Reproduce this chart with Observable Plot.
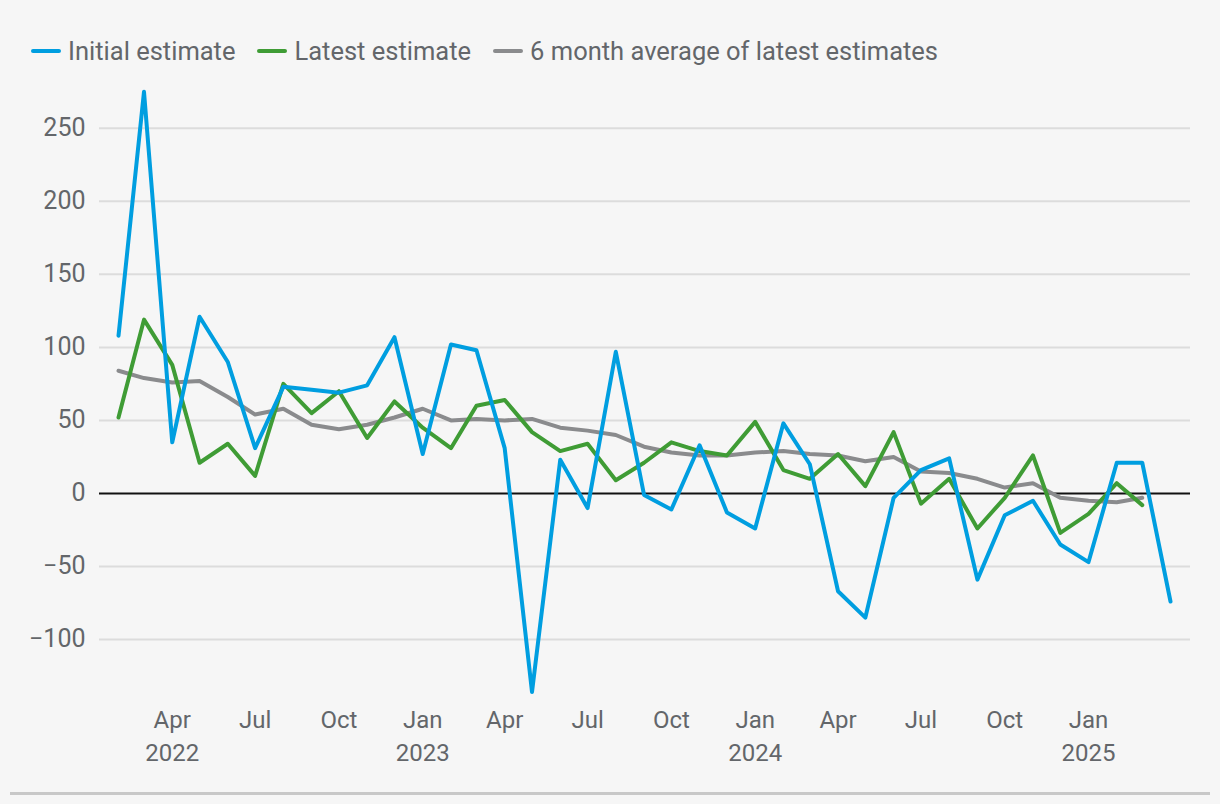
<!DOCTYPE html>
<html><head><meta charset="utf-8">
<script src="https://cdn.jsdelivr.net/npm/d3@7"></script>
<script src="https://cdn.jsdelivr.net/npm/@observablehq/plot@0.6"></script>
<style>
html,body{margin:0;padding:0;background:#f6f6f6;}
body{width:1220px;height:804px;overflow:hidden;font-family:Roboto,"Noto Sans",sans-serif;position:relative}
#legend{height:76px;box-sizing:border-box;padding-top:26px;padding-left:31px;display:flex;align-items:center;font-size:25.5px;color:#63666a}
.item{display:flex;align-items:center;margin-right:22px}
.sw{width:30px;height:4px;border-radius:2px;margin-right:7px}
#chart svg{display:block}
#rule{position:absolute;left:10px;top:792px;width:1200px;height:3px;background:#c8c8c8}
</style></head>
<body>
<div id="legend"></div>
<div id="chart"></div>
<div id="rule"></div>
<script>
const months = ["2022-02","2022-03","2022-04","2022-05","2022-06","2022-07","2022-08","2022-09","2022-10","2022-11","2022-12",
"2023-01","2023-02","2023-03","2023-04","2023-05","2023-06","2023-07","2023-08","2023-09","2023-10","2023-11","2023-12",
"2024-01","2024-02","2024-03","2024-04","2024-05","2024-06","2024-07","2024-08","2024-09","2024-10","2024-11","2024-12",
"2025-01","2025-02","2025-03","2025-04"];
const initialEstimate = [108,275,35,121,90,31,73,71,69,74,107,27,102,98,31,-136,23,-10,97,-1,-11,33,-13,-24,48,20,-67,-85,-3,16,24,-59,-15,-5,-35,-47,21,21,-74];
const latestEstimate = [52,119,88,21,34,12,75,55,70,38,63,45,31,60,64,42,29,34,9,21,35,29,26,49,16,10,27,5,42,-7,10,-24,-3,26,-27,-14,7,-8];
const sixMonthAverage = [84,79,76,77,66,54,58,47,44,47,52,58,50,51,50,51,45,43,40,32,28,26,26,28,29,27,26,22,25,15,14,10,4,7,-3,-5,-6,-3];
const yTicks = [-100,-50,0,50,100,150,200,250];
const xTickMonths = ["2022-04","2022-07","2022-10","2023-01","2023-04","2023-07","2023-10","2024-01","2024-04","2024-07","2024-10","2025-01"];
const seriesNames = ["Initial estimate","Latest estimate","6 month average of latest estimates"];
const seriesColors = ["#009ee0","#3f9c35","#8a8b8d"];

const parse = d3.utcParse("%Y-%m");
const dates = months.map(parse);
const xTicks = xTickMonths.map(parse);
const toRows = arr => arr.map((v,i)=>({date:dates[i], value:v}));

// legend
const lg = document.getElementById("legend");
seriesNames.forEach((n,i)=>{
  const it = document.createElement("div"); it.className="item";
  const sw = document.createElement("div"); sw.className="sw"; sw.style.background=seriesColors[i];
  const tx = document.createElement("span"); tx.textContent=n;
  it.appendChild(sw); it.appendChild(tx); lg.appendChild(it);
});

const fmtMonth = d3.utcFormat("%b");
const plot = Plot.plot({
  width:1220, height:712,
  marginLeft:99, marginRight:30, marginTop:8, marginBottom:90.6,
  style:{background:"transparent", fontFamily:"Roboto, 'Noto Sans', sans-serif"},
  x:{type:"utc", domain:[dates[0], dates[dates.length-1]], insetLeft:19, insetRight:20},
  y:{domain:[-140,280]},
  marks:[
    Plot.ruleY(yTicks.filter(d=>d!==0), {stroke:"#dcdcdc", strokeWidth:2}),
    Plot.axisY(yTicks, {tickSize:0, tickPadding:14, fontSize:25, fill:"#63666a", label:null}),
    Plot.axisX(xTicks, {tickSize:0, tickPadding:6, fontSize:24, fill:"#63666a", label:null, lineHeight:1.4,
      tickFormat:(d,i)=> (i===0 || d.getUTCMonth()===0) ? fmtMonth(d)+"\n"+d.getUTCFullYear() : fmtMonth(d)}),
    Plot.ruleY([0], {stroke:"#111", strokeWidth:2}),
    Plot.line(toRows(sixMonthAverage), {x:"date", y:"value", stroke:seriesColors[2], strokeWidth:4}),
    Plot.line(toRows(latestEstimate), {x:"date", y:"value", stroke:seriesColors[1], strokeWidth:4}),
    Plot.line(toRows(initialEstimate), {x:"date", y:"value", stroke:seriesColors[0], strokeWidth:4})
  ]
});
document.getElementById("chart").appendChild(plot);
</script>
</body></html>
